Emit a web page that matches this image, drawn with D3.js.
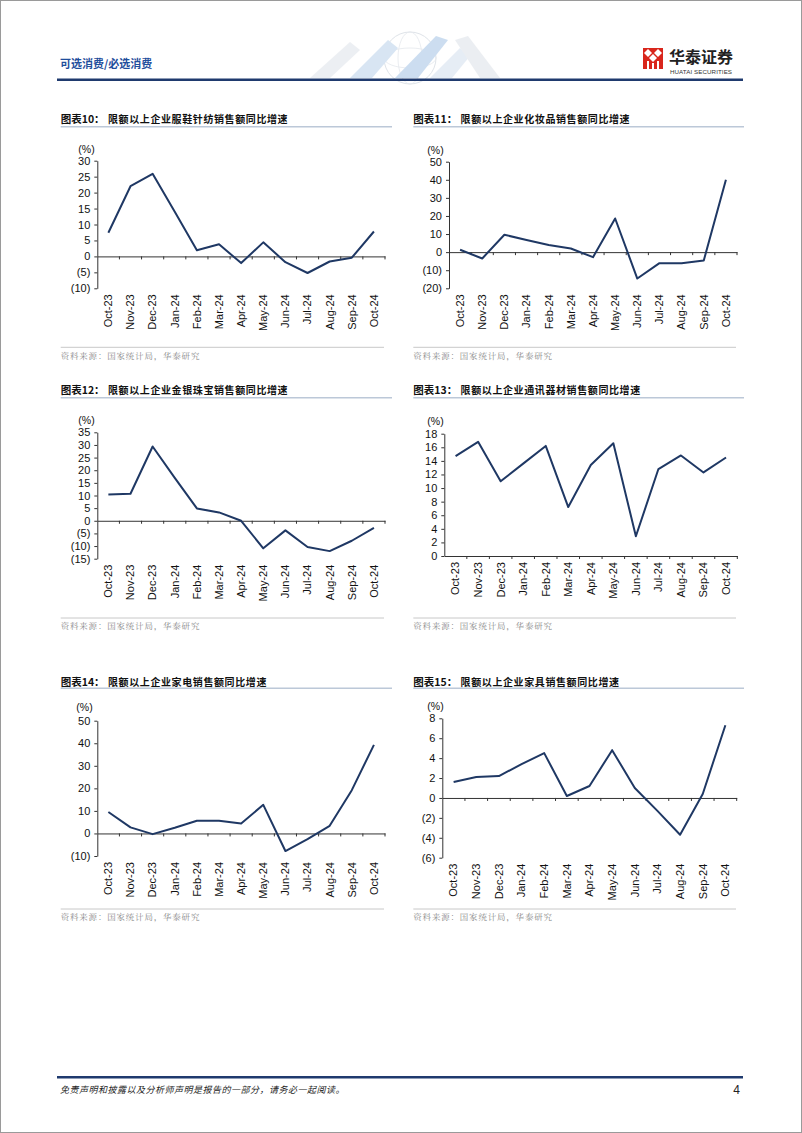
<!DOCTYPE html>
<html><head><meta charset="utf-8">
<script src="https://cdn.jsdelivr.net/npm/d3@7"></script>
<style>body{margin:0;background:#fff}svg{display:block}</style>
</head><body>
<svg id="page" width="802" height="1133"></svg>
<script>
// ---------- DATA ----------
const months = ["Oct-23","Nov-23","Dec-23","Jan-24","Feb-24","Mar-24","Apr-24","May-24","Jun-24","Jul-24","Aug-24","Sep-24","Oct-24"];
const apparel   = [7.4, 22.0, 25.9, 14.0, 1.9, 3.8, -2.1, 4.4, -1.8, -5.2, -1.6, -0.4, 7.8];
const cosmetics = [1.3, -3.5, 9.6, 6.7, 3.9, 2.0, -2.8, 18.6, -14.6, -6.1, -6.1, -4.6, 40.0];
const jewelry   = [10.4, 10.7, 29.4, 17.0, 4.9, 3.3, 0.0, -10.9, -3.8, -10.4, -12.0, -7.9, -2.8];
const telecom   = [14.7, 16.8, 11.0, 13.6, 16.2, 7.2, 13.4, 16.6, 2.9, 12.8, 14.8, 12.3, 14.5];
const appliance = [9.5, 2.7, -0.3, 2.5, 5.6, 5.6, 4.4, 12.7, -7.8, -2.5, 3.4, 19.2, 39.3];
const furniture = [1.6, 2.1, 2.2, 3.4, 4.5, 0.2, 1.2, 4.8, 1.0, -1.3, -3.7, 0.4, 7.3];
const chartNums   = ["图表10：","图表11：","图表12：","图表13：","图表14：","图表15："];
const chartTitles = ["限额以上企业服鞋针纺销售额同比增速","限额以上企业化妆品销售额同比增速","限额以上企业金银珠宝销售额同比增速","限额以上企业通讯器材销售额同比增速","限额以上企业家电销售额同比增速","限额以上企业家具销售额同比增速"];
const yDomains = [[-10,30,5],[-20,50,10],[-15,35,5],[0,18,2],[-10,50,10],[-6,8,2]];
const unitLabel = "(%)";
const sourceText = "资料来源：国家统计局，华泰研究";
const headerText = "可选消费/必选消费";
const footerText = "免责声明和披露以及分析师声明是报告的一部分，请务必一起阅读。";
const pageNum = "4";

const series = [apparel, cosmetics, jewelry, telecom, appliance, furniture];

// ---------- LAYOUT ----------
const svg = d3.select("#page");
const NAVY = "#1f3864";
const layouts = [
  {x0:97.3, x1:385, yTop:160.7, yBot:288.3, tx:60.7, ty:119.3, ul:126.7, ulEnd:392, ux:86.5, uy:149.3, sl:347.3, sy:355.7},
  {x0:449, x1:737, yTop:161.7, yBot:288.3, tx:413.3, ty:119.3, ul:126.7, ulEnd:744, ux:435.5, uy:150.5, sl:347.3, sy:355.7},
  {x0:97.3, x1:385, yTop:432.3, yBot:558.7, tx:60.7, ty:390, ul:397.7, ulEnd:392, ux:86.5, uy:420, sl:618, sy:626.5},
  {x0:444.3, x1:737.3, yTop:433.7, yBot:556, tx:413.3, ty:390, ul:397.7, ulEnd:744, ux:435.5, uy:421.7, sl:618, sy:626.5},
  {x0:97.3, x1:385, yTop:720.7, yBot:856, tx:60.7, ty:682.7, ul:688.3, ulEnd:392, ux:84.5, uy:707, sl:909, sy:917.5},
  {x0:442.3, x1:736.7, yTop:718.3, yBot:857.7, tx:413.3, ty:682.7, ul:688.3, ulEnd:744, ux:435.5, uy:706, sl:909, sy:917.5}
];

// page border
svg.append("rect").attr("x",0.5).attr("y",0.5).attr("width",801).attr("height",1132)
  .attr("fill","none").attr("stroke","#9a9a9a").attr("stroke-width",1);

// ---------- HEADER ----------
const hdr = svg.append("g");
const deco = hdr.append("g").attr("opacity",0.45);
deco.append("circle").attr("cx",410).attr("cy",58).attr("r",26).attr("fill","none").attr("stroke","#b9c3cf").attr("stroke-width",1);
deco.append("ellipse").attr("cx",410).attr("cy",58).attr("rx",12).attr("ry",26).attr("fill","none").attr("stroke","#c6ced8").attr("stroke-width",0.8);
deco.append("ellipse").attr("cx",410).attr("cy",58).attr("rx",26).attr("ry",10).attr("fill","none").attr("stroke","#c6ced8").attr("stroke-width",0.8);
const chev = [
  [[310,78],[330,78],[360,50],[350,42]],
  [[350,78],[372,78],[398,48],[388,40]],
  [[395,78],[418,78],[448,40],[436,36]],
  [[430,78],[452,78],[470,56],[460,48]],
  [[455,40],[468,36],[500,78],[480,78]]
];
const chevCol = ["#d7dde5","#a9c7e6","#8fb6e0","#c9d8ea","#d5dbe3"];
chev.forEach((p,i)=>deco.append("polygon").attr("points",p.map(d=>d.join(",")).join(" ")).attr("fill",chevCol[i]));
hdr.append("text").attr("x",60).attr("y",68).text(headerText)
  .attr("font-family","'Noto Sans CJK SC'").attr("font-weight","bold").attr("font-size",11).attr("fill","#1f4e9c");
// logo
hdr.append("rect").attr("x",643).attr("y",48).attr("width",20).attr("height",21).attr("fill","#d9261c");
const dia = [[648,53],[658,53],[653,58]];
dia.forEach(d=>hdr.append("path").attr("d",`M${d[0]},${d[1]-4} l4,4 l-4,4 l-4,-4z`).attr("fill","#fff"));
hdr.append("rect").attr("x",647).attr("y",61).attr("width",2).attr("height",8).attr("fill","#fff");
hdr.append("rect").attr("x",652).attr("y",63).attr("width",2).attr("height",6).attr("fill","#fff");
hdr.append("rect").attr("x",657).attr("y",61).attr("width",2).attr("height",8).attr("fill","#fff");
hdr.append("text").attr("x",669).attr("y",63).text("华泰证券")
  .attr("font-family","'Noto Sans CJK SC'").attr("font-weight","bold").attr("font-size",16).attr("fill","#222");
hdr.append("text").attr("x",670).attr("y",74).text("HUATAI SECURITIES")
  .attr("font-family","'Liberation Sans',Arial").attr("font-size",6.2).attr("fill","#333").attr("textLength",62);
hdr.append("rect").attr("x",57).attr("y",78.5).attr("width",686).attr("height",2.5).attr("fill","#1f3a6e");

// ---------- CHARTS ----------
const fmt = v => v < 0 ? `(${-v})` : `${v}`;

series.forEach((vals, i) => {
  const L = layouts[i];
  const [mn, mx, st] = yDomains[i];
  const g = svg.append("g");

  g.append("text").attr("x",L.tx).attr("y",L.ty).attr("dy","0.35em").text(chartNums[i])
    .attr("font-family","'Noto Sans CJK SC'").attr("font-weight","bold").attr("font-size",10.5).attr("fill","#111");
  g.append("text").attr("x",L.tx+47.3).attr("y",L.ty).attr("dy","0.35em").text(chartTitles[i])
    .attr("font-family","'Noto Sans CJK SC'").attr("font-weight","bold").attr("font-size",10).attr("letter-spacing",0.6).attr("fill","#111");
  g.append("line").attr("x1",L.tx).attr("x2",L.ulEnd).attr("y1",L.ul).attr("y2",L.ul)
    .attr("stroke","#bcc8d8").attr("stroke-width",1.5);

  const x = d3.scaleBand().domain(months).range([L.x0, L.x1]);
  const y = d3.scaleLinear().domain([mn, mx]).range([L.yBot, L.yTop]);

  const ya = g.append("g").attr("transform",`translate(${L.x0},0)`)
    .call(d3.axisLeft(y).tickValues(d3.range(mn, mx + 0.001, st)).tickSize(3).tickSizeOuter(0).tickPadding(4).tickFormat(fmt));
  ya.selectAll("path,line").attr("stroke","#333");
  ya.selectAll("text").attr("font-family","'Liberation Sans',Arial").attr("font-size",11).attr("fill","#111");

  const y0 = y(Math.max(0, mn));
  const xa = g.append("g").attr("transform",`translate(0,${y0})`)
    .call(d3.axisBottom(x).tickSize(0).tickSizeOuter(0).tickFormat(""));
  xa.selectAll("path").attr("stroke","#333");
  g.selectAll(null).data(months.slice(1).concat(["__end"])).join("line")
    .attr("x1", d => d === "__end" ? L.x1 : x(d)).attr("x2", d => d === "__end" ? L.x1 : x(d))
    .attr("y1", y0).attr("y2", y0 + 3).attr("stroke","#333");

  g.selectAll(null).data(months).join("text")
    .attr("transform", d => `translate(${x(d) + x.bandwidth()/2},${L.yBot + 6}) rotate(-90)`)
    .attr("text-anchor","end").attr("dy","0.35em").text(d => d)
    .attr("font-family","'Liberation Sans',Arial").attr("font-size",11).attr("fill","#111");

  g.append("text").attr("x",L.ux).attr("y",L.uy).attr("dy","0.35em").attr("text-anchor","middle").text(unitLabel)
    .attr("font-family","'Liberation Sans',Arial").attr("font-size",10.5).attr("fill","#111");

  const line = d3.line().x((d,j) => x(months[j]) + x.bandwidth()/2).y(d => y(d));
  g.append("path").datum(vals).attr("d", line).attr("fill","none")
    .attr("stroke", NAVY).attr("stroke-width", 2).attr("stroke-linejoin","round");

  g.append("line").attr("x1",L.tx).attr("x2",L.ulEnd - 8).attr("y1",L.sl).attr("y2",L.sl)
    .attr("stroke","#c8c8c8").attr("stroke-width",1);
  g.append("text").attr("x",L.tx).attr("y",L.sy).attr("dy","0.35em").text(sourceText)
    .attr("font-family","'Noto Serif CJK SC','Noto Sans CJK SC'").attr("font-size",8.5).attr("letter-spacing",0.8).attr("fill","#8a8a8a");
});

// ---------- FOOTER ----------
svg.append("rect").attr("x",57).attr("y",1076).attr("width",686).attr("height",2.5).attr("fill","#1f3a6e");
svg.append("text").attr("x",60).attr("y",1090).attr("dy","0.35em").text(footerText)
  .attr("font-family","'Noto Sans CJK SC'").attr("font-style","italic").attr("font-size",9).attr("letter-spacing",0.5).attr("fill","#222");
svg.append("text").attr("x",740).attr("y",1090).attr("dy","0.35em").attr("text-anchor","end").text(pageNum)
  .attr("font-family","'Liberation Sans',Arial").attr("font-size",12).attr("fill","#222");
</script>
</body></html>
